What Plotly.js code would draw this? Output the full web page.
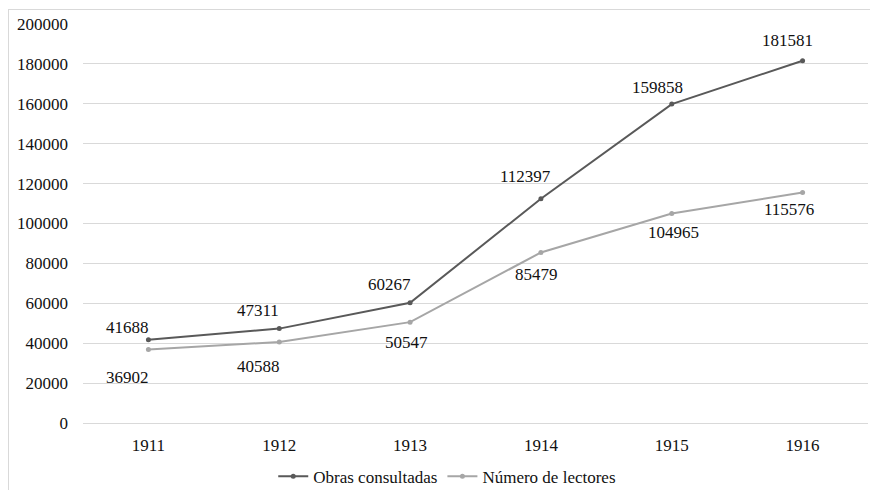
<!DOCTYPE html>
<html>
<head>
<meta charset="utf-8">
<script src="https://cdn.plot.ly/plotly-3.0.1.min.js"></script>
<style>
  html, body { margin: 0; padding: 0; background: #fff; }
  #frame { position: absolute; left: 8px; top: 9px; width: 900px; height: 520px;
           border: 1px solid #d9d9d9; box-sizing: border-box; }
  #chart { position: absolute; left: 0; top: 0; width: 870px; height: 490px; }
</style>
</head>
<body>
<div id="frame"></div>
<div id="chart"></div>
<script>
// Library statistics by year
const years = ['1911', '1912', '1913', '1914', '1915', '1916'];
const obrasConsultadas = [41688, 47311, 60267, 112397, 159858, 181581];
const numeroLectores = [36902, 40588, 50547, 85479, 104965, 115576];
const seriesNames = ['Obras consultadas', 'Número de lectores'];

// label offsets (pixels) relative to each point: [xshift, yshift]
const obrasLabelShift = [[-21, 12], [-21, 18], [-21, 18], [-15, 22], [-14, 17], [-15, 20]];
const lectoresLabelShift = [[-21, -28], [-21, -24], [-4, -20], [-4, -22], [2, -19], [-14, -17]];

const darkColor = '#595959';
const lightColor = '#a6a6a6';
const FAMILY = 'Liberation Serif';
function mkFont() { return { family: FAMILY, size: 17, color: '#111' }; }

const traces = [
  { x: years, y: obrasConsultadas, name: seriesNames[0], type: 'scatter', mode: 'lines+markers',
    line: { color: darkColor, width: 2 }, marker: { color: darkColor, size: 5 } },
  { x: years, y: numeroLectores, name: seriesNames[1], type: 'scatter', mode: 'lines+markers',
    line: { color: lightColor, width: 2 }, marker: { color: lightColor, size: 5 } }
];

const annotations = [];
function addLabels(values, shifts) {
  values.forEach((v, i) => {
    annotations.push({ x: i, y: v, xref: 'x', yref: 'y', text: String(v), showarrow: false,
      xshift: shifts[i][0], yshift: shifts[i][1], font: mkFont(),
      xanchor: 'center', yanchor: 'middle' });
  });
}
addLabels(obrasConsultadas, obrasLabelShift);
addLabels(numeroLectores, lectoresLabelShift);

const layout = {
  width: 870, height: 490,
  margin: { l: 83, r: 2, t: 24, b: 67 },
  paper_bgcolor: 'rgba(0,0,0,0)', plot_bgcolor: 'rgba(0,0,0,0)',
  font: mkFont(),
  showlegend: true,
  legend: { orientation: 'h', x: 0.464, xanchor: 'center', yref: 'container', y: 0.027,
            yanchor: 'middle', font: mkFont(), bgcolor: 'rgba(0,0,0,0)' },
  xaxis: { type: 'category', range: [-0.5, 5.5], showgrid: false, zeroline: false,
           showline: true, linecolor: '#d9d9d9', linewidth: 1, ticks: '',
           ticklabelstandoff: 7, tickfont: mkFont(), fixedrange: true },
  yaxis: { range: [0, 200000], dtick: 20000, showgrid: true, gridcolor: '#d9d9d9', gridwidth: 1,
           zeroline: false, showline: false, ticks: '', ticklabelstandoff: 14,
           tickformat: 'd', tickfont: mkFont(), fixedrange: true },
  annotations: annotations
};

Plotly.newPlot('chart', traces, layout, { displayModeBar: false, staticPlot: true });
</script>
</body>
</html>
